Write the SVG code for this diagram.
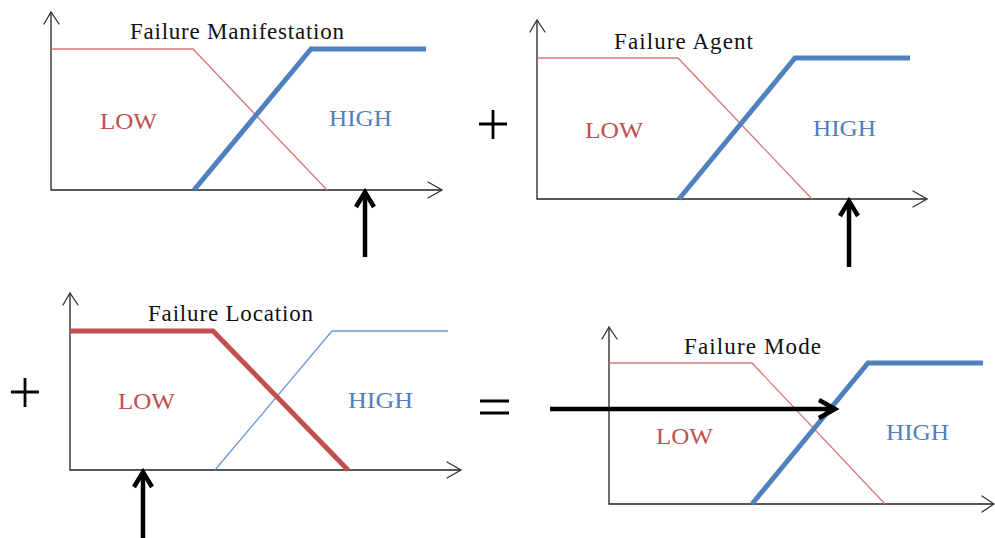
<svg xmlns="http://www.w3.org/2000/svg" width="995" height="538" viewBox="0 0 995 538">
<style>
.axis{fill:none;stroke:#222;stroke-width:1.3}
.head{fill:none;stroke:#333;stroke-width:1.3;stroke-linecap:round;stroke-linejoin:miter}
.rt{fill:none;stroke:#D9787A;stroke-width:1.3;stroke-linejoin:miter}
.bt{fill:none;stroke:#6B97D6;stroke-width:1.3;stroke-linejoin:miter}
.rT{fill:none;stroke:#C0504D;stroke-width:5;stroke-linejoin:miter}
.bT{fill:none;stroke:#4F81BD;stroke-width:5;stroke-linejoin:miter}
.title{font-family:"Liberation Serif","Times New Roman",serif;font-size:23px;fill:#111}
.low{font-family:"Liberation Serif","Times New Roman",serif;font-size:24px;fill:#C0504D}
.high{font-family:"Liberation Serif","Times New Roman",serif;font-size:24px;fill:#4F81BD}
.ptr{fill:none;stroke:#000;stroke-width:4.5;stroke-linecap:butt;stroke-linejoin:miter}
.op{fill:none;stroke:#000;stroke-width:2.8}
</style>

<g id="panel-manifestation">
<path class="axis" d="M51 12 V190 H442"/>
<path class="head" d="M44 24 L51 12 L59 24"/>
<path class="head" d="M428 182 L442 190 L428 198"/>
<path class="rt" d="M51 49 H193 L327 190"/>
<path class="bT" d="M194 190 L311 49 H426"/>
<text class="title" x="130" y="39" textLength="214" lengthAdjust="spacing">Failure Manifestation</text>
<text class="low" x="100" y="129" textLength="57" lengthAdjust="spacingAndGlyphs">LOW</text>
<text class="high" x="329" y="126" textLength="63" lengthAdjust="spacingAndGlyphs">HIGH</text>
</g>

<g id="panel-agent">
<path class="axis" d="M537 20 V199 H927"/>
<path class="head" d="M530 32 L537 20 L545 32"/>
<path class="head" d="M913 191 L927 199 L913 207"/>
<path class="rt" d="M537 58 H678 L812 199"/>
<path class="bT" d="M679 199 L795 58 H910"/>
<text class="title" x="614" y="49" textLength="139" lengthAdjust="spacing">Failure Agent</text>
<text class="low" x="585" y="138" textLength="58" lengthAdjust="spacingAndGlyphs">LOW</text>
<text class="high" x="813" y="136" textLength="63" lengthAdjust="spacingAndGlyphs">HIGH</text>
</g>

<g id="panel-location">
<path class="axis" d="M70 293 V470 H461"/>
<path class="head" d="M63 305 L70 293 L78 305"/>
<path class="head" d="M447 462 L461 470 L447 478"/>
<path class="bt" d="M215 470 L332 331 H448"/>
<path class="rT" d="M70 331 H213 L348 470"/>
<text class="title" x="148" y="321" textLength="165" lengthAdjust="spacing">Failure Location</text>
<text class="low" x="118" y="409" textLength="57" lengthAdjust="spacingAndGlyphs">LOW</text>
<text class="high" x="348" y="408" textLength="65" lengthAdjust="spacingAndGlyphs">HIGH</text>
</g>

<g id="panel-mode">
<path class="axis" d="M609 327 V504 H994"/>
<path class="head" d="M602 339 L609 327 L617 339"/>
<path class="head" d="M982 496 L994 504 L982 512"/>
<path class="rt" d="M609 363 H752 L885 504"/>
<path class="bT" d="M752 504 L868 363 H983"/>
<text class="title" x="684" y="354" textLength="137" lengthAdjust="spacing">Failure Mode</text>
<text class="low" x="656" y="444" textLength="57" lengthAdjust="spacingAndGlyphs">LOW</text>
<text class="high" x="886" y="440" textLength="63" lengthAdjust="spacingAndGlyphs">HIGH</text>
</g>

<g id="operators">
<path class="op" d="M479 124 H507 M493 110 V139"/>
<path class="op" d="M11 392 H39 M25 378 V407"/>
<path class="op" d="M480 401 H509 M480 413 H509"/>
</g>

<g id="connectors">
<path class="ptr" d="M365 257 V192"/>
<path class="ptr" d="M356 207 L365 192 L374 207"/>
<path class="ptr" d="M849 267 V201"/>
<path class="ptr" d="M840 216 L849 201 L858 216"/>
<path class="ptr" d="M143 538 V472"/>
<path class="ptr" d="M134 487 L143 472 L152 487"/>
<path class="ptr" d="M550 409 H834"/>
<path class="ptr" d="M819 400 L835 409 L819 418"/>
</g>
</svg>
